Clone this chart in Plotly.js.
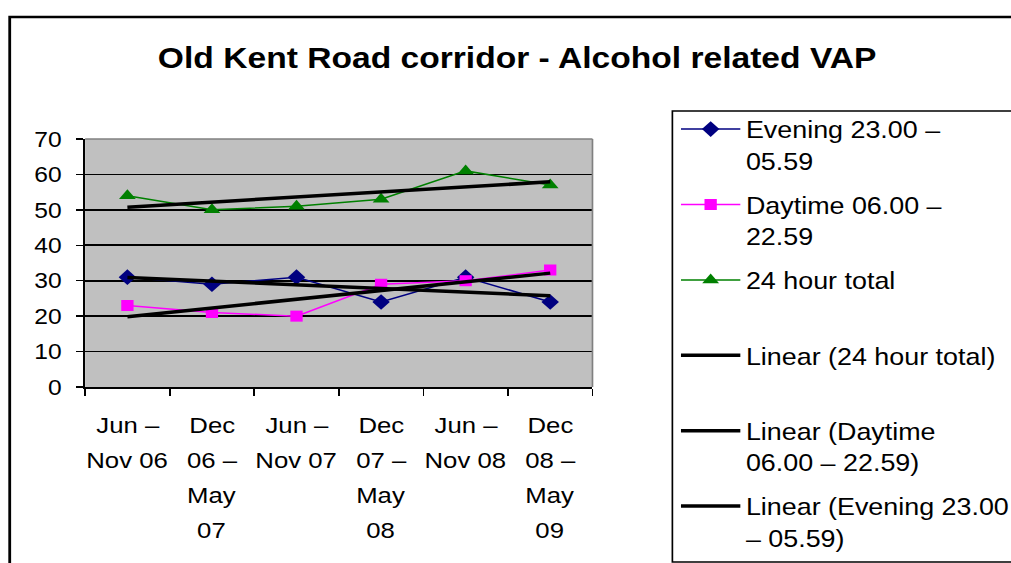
<!DOCTYPE html>
<html><head><meta charset="utf-8">
<script src="https://cdn.plot.ly/plotly-3.0.1.min.js"></script>
<style>
html,body{margin:0;padding:0;overflow:hidden;background:#fff}
#wrap{width:1011px;height:563px;overflow:hidden;position:relative;background:#fff}
#chart{position:absolute;left:0;top:0;transform-origin:0 0;}
</style></head><body><div id="wrap"><div id="chart"></div></div>
<script>
// ---- data ----
const categories = ["Jun – Nov 06","Dec 06 – May 07","Jun – Nov 07","Dec 07 – May 08","Jun – Nov 08","Dec 08 – May 09"];
const tickLines = [["Jun –","Nov 06"],["Dec","06 –","May","07"],["Jun –","Nov 07"],["Dec","07 –","May","08"],["Jun –","Nov 08"],["Dec","08 –","May","09"]];
const evening = [31,29,31,24,31,24];
const daytime = [23,21,20,29,30,33];
const total24 = [54,50,51,53,61,57];
const seriesNames = ["Evening 23.00 –<br>05.59", "Daytime 06.00 –<br>22.59", "24 hour total<br>\u00A0"];
const trendNames = ["Linear (24 hour total)<br>\u00A0", "Linear (Daytime<br>06.00 – 22.59)", "Linear (Evening 23.00<br>– 05.59)"];
const yTicks = [0,10,20,30,40,50,60,70];
const chartTitle = "Old Kent Road corridor - Alcohol related VAP";

// least-squares linear trend (as the spreadsheet's "Linear" trendline)
function linFit(y){
  const n=y.length; let sx=0,sy=0,sxx=0,sxy=0;
  for(let i=0;i<n;i++){sx+=i;sy+=y[i];sxx+=i*i;sxy+=i*y[i];}
  const b=(n*sxy-sx*sy)/(n*sxx-sx*sx), a=(sy-b*sx)/n;
  return y.map((_,i)=>a+b*i);
}

// ---- geometry ----
const S = 1.12;                 // horizontal text stretch of the reference
const W = Math.round(1011/S), H = 563;
const lx = v => v/S;
const L = lx(85), R = lx(593), T = 139, B = 387;
const px = v => (lx(v)-L)/(R-L);
const py = v => (B-v)/(B-T);
const el = document.getElementById('chart');
el.style.width = W+'px'; el.style.height = H+'px';
el.style.transform = 'scaleX('+S+')';

const FONT = "Liberation Sans, Arial, sans-serif";

const traces = [
  {x:categories, y:evening, name:seriesNames[0], mode:'lines+markers', legendgroup:'a',
   line:{color:'#000080', width:1.5}, marker:{symbol:'diamond', size:12, color:'#000080'}},
  {x:categories, y:daytime, name:seriesNames[1], mode:'lines+markers', legendgroup:'b',
   line:{color:'#FF00FF', width:1.5}, marker:{symbol:'square', size:11, color:'#FF00FF'}},
  {x:categories, y:total24, name:seriesNames[2], mode:'lines+markers', legendgroup:'c',
   line:{color:'#008000', width:1.5}, marker:{symbol:'triangle-up', size:13, color:'#008000'}},
  {x:categories, y:linFit(total24), name:trendNames[0], mode:'lines', legendgroup:'d',
   line:{color:'#000000', width:3.5}},
  {x:categories, y:linFit(daytime), name:trendNames[1], mode:'lines', legendgroup:'e',
   line:{color:'#000000', width:3.5}},
  {x:categories, y:linFit(evening), name:trendNames[2], mode:'lines', legendgroup:'f',
   line:{color:'#000000', width:3.5}}
];

// category labels, one text line per annotation so line spacing matches
const annotations = [];
tickLines.forEach((lines,i)=>{
  lines.forEach((t,k)=>{
    annotations.push({xref:'x', yref:'paper', x:categories[i], y:0, yanchor:'middle', xanchor:'center',
      yshift:-(38+35*k), text:t, showarrow:false, font:{family:FONT, size:23, color:'#000'}});
  });
});

const layout = {
  width:W, height:H,
  margin:{l:L, r:W-R, t:T, b:H-B, pad:0, autoexpand:false},
  paper_bgcolor:'rgba(0,0,0,0)', plot_bgcolor:'#C0C0C0',
  font:{family:FONT, color:'#000'},
  title:{text:chartTitle, font:{family:FONT, size:30, weight:'bold', color:'#000'},
    x:517/1011, xref:'container', xanchor:'center', y:1-58/563, yref:'container', yanchor:'middle'},
  showlegend:true,
  legend:{x:px(676), y:py(107), xanchor:'left', yanchor:'top', bgcolor:'rgba(0,0,0,0)',
    borderwidth:0, font:{family:FONT, size:24, color:'#000'}, valign:'top', traceorder:'grouped',
    tracegroupgap:10, itemwidth:53, maxheight:2000},
  xaxis:{type:'category', range:[-0.5,5.5], autorange:false, tickson:'boundaries',
    ticks:'outside', ticklen:7, tickwidth:1.5, tickcolor:'#000', showline:true, linecolor:'#000', linewidth:1.5,
    showgrid:false, zeroline:false, showticklabels:false},
  yaxis:{range:[0,70], autorange:false, tickvals:yTicks, ticktext:yTicks.map(String),
    ticks:'outside', ticklen:7, tickwidth:1.5, tickcolor:'#000', showline:true, linecolor:'#000', linewidth:1.5,
    showgrid:true, gridcolor:'#000', gridwidth:1.8, zeroline:false,
    tickfont:{family:FONT, size:22, color:'#000'}, ticklabelstandoff:8},
  annotations:annotations,
  shapes:[
    {type:'line', xref:'paper', yref:'paper', x0:0, x1:1, y0:1, y1:1, line:{color:'#808080', width:1.5}, layer:'above'},
    {type:'line', xref:'paper', yref:'paper', x0:1, x1:1, y0:0, y1:1, line:{color:'#808080', width:1.5}, layer:'above'},
    {type:'rect', xref:'paper', yref:'paper', x0:px(9.5), x1:px(1200), y0:py(800), y1:py(17), line:{color:'#000', width:2.5}},
    {type:'rect', xref:'paper', yref:'paper', x0:px(673), x1:px(1200), y0:py(562), y1:py(111), line:{color:'#000', width:1.5}}
  ],
  hovermode:false
};

Plotly.newPlot(el, traces, layout, {staticPlot:true, displayModeBar:false});
</script>
</body></html>
